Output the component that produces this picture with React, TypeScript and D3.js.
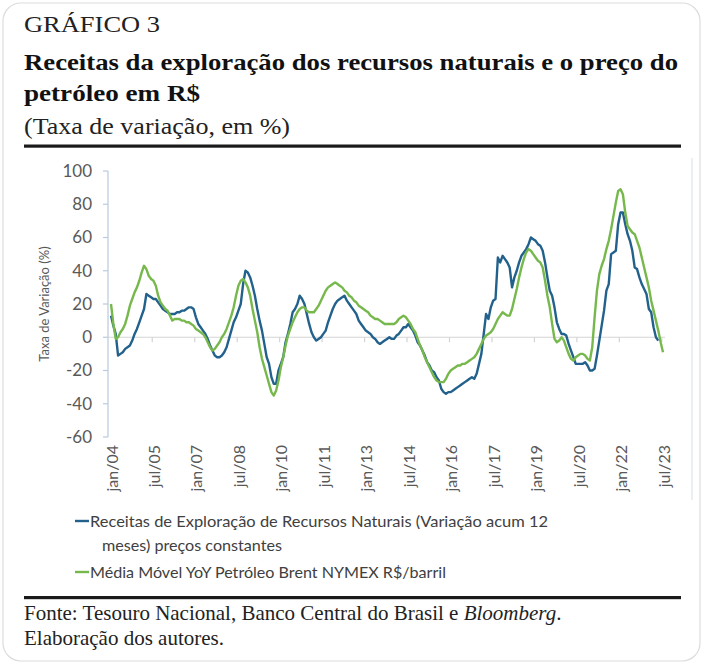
import React from "react";
import * as d3 from "d3";

const xLabels = ["jan/04","jul/05","jan/07","jul/08","jan/10","jul/11","jan/13","jul/14","jan/16","jul/17","jan/19","jul/20","jan/22","jul/23"];
const yTicks = [100, 80, 60, 40, 20, 0, -20, -40, -60];

// Monthly values starting jan/2004
const receitas = [
  13,7,2,-11,-10,-9,-7,-6,-5,-2,2,5,9,13,17,26,25,24,23,23,21,19,17,16,
  15,14,14,14,15,15,16,16,17,18,18,17,12,8,6,4,2,-1,-5,-8,-11,-12,-12,-11,
  -9,-6,-1,4,9,12,16,20,32,40,39,36,31,25,17,10,4,-4,-12,-16,-24,-28,-28,-20,
  -16,-12,-3,2,8,15,17,20,25,23,20,14,8,3,0,-2,-1,0,2,4,9,13,17,20,
  22,23,24,25,22,20,18,16,14,10,8,6,4,3,2,0,-1,-3,-4,-3,-2,-1,0,-1,
  -1,1,2,4,6,6,8,6,4,1,-3,-5,-8,-11,-15,-17,-20,-21,-24,-26,-31,-33,-34,-33,
  -33,-32,-31,-30,-29,-28,-27,-26,-25,-24,-25,-22,-16,-10,2,14,11,18,22,23,48,45,49,47,
  45,42,30,36,40,45,49,51,53,56,60,59,58,56,55,52,45,36,28,25,18,9,5,2,
  2,1,-4,-8,-12,-16,-16,-16,-16,-15,-17,-20,-20,-19,-11,-2,7,16,28,32,50,51,52,68,
  75,75,68,62,58,52,42,41,36,32,29,26,17,15,6,0,-2
];

const petroleo = [
  20,8,-1,0,3,5,8,13,19,23,27,30,34,39,43,41,37,35,34,31,25,21,19,17,
  16,13,10,11,11,11,10,10,9,9,8,7,5,4,3,2,0,-3,-6,-8,-7,-5,-3,0,
  2,5,9,13,18,25,31,34,35,33,30,25,17,10,3,-6,-13,-18,-23,-28,-33,-35,-32,-26,
  -18,-12,-5,1,5,9,12,15,17,18,18,16,15,15,15,17,19,22,25,28,30,31,32,33,
  32,31,30,28,27,25,24,22,21,19,18,17,16,15,13,12,11,11,10,9,8,8,8,8,
  8,9,11,12,13,12,10,8,5,3,-1,-5,-8,-12,-15,-18,-21,-24,-26,-27,-27,-27,-25,-22,
  -20,-19,-18,-17,-17,-16,-16,-15,-14,-13,-12,-10,-7,-4,-1,1,2,3,5,8,11,13,15,14,
  13,13,17,23,29,36,42,47,51,53,52,50,48,46,45,42,34,25,18,8,-1,-3,-2,0,
  -2,-6,-10,-13,-14,-12,-11,-10,-10,-11,-13,-14,-6,12,28,38,43,47,53,58,65,73,81,88,
  89,86,75,67,65,63,62,58,54,48,42,36,30,22,16,10,4,-3,-9
];

const BLUE = "#22618c";
const GREEN = "#76b84c";
const AXIS_TXT = "#595959";

export default function App() {
  const x = d3.scaleLinear().domain([0, 234]).range([111, 663]);
  const y = d3.scaleLinear().domain([-60, 100]).range([437, 171]);
  const line = d3
    .line<number>()
    .x((_, i) => x(i))
    .y((d) => y(d));

  const serif = "'Liberation Serif', 'Times New Roman', serif";
  const sans = "Lato, 'Open Sans', sans-serif";

  return (
    <svg
      width={704}
      height={670}
      style={{ position: "absolute", left: 0, top: 0, background: "#fff" }}
    >
      <rect x={3} y={3} width={697} height={658} rx={18} ry={18} fill="#fff" stroke="#dcdcdc" strokeWidth={1.2} />

      {/* Header */}
      <text x={24} y={32} fontFamily={serif} fontSize={24} fill="#222" textLength={136} lengthAdjust="spacingAndGlyphs">GRÁFICO 3</text>
      <text x={24} y={70} fontFamily={serif} fontSize={24} fontWeight="bold" fill="#111" textLength={654} lengthAdjust="spacingAndGlyphs">Receitas da exploração dos recursos naturais e o preço do</text>
      <text x={24} y={101} fontFamily={serif} fontSize={24} fontWeight="bold" fill="#111" textLength={176} lengthAdjust="spacingAndGlyphs">petróleo em R$</text>
      <text x={24} y={134} fontFamily={serif} fontSize={24} fill="#222" textLength={266} lengthAdjust="spacingAndGlyphs">(Taxa de variação, em %)</text>
      <rect x={24} y={144.5} width={657} height={3.2} fill="#1a1a1a" />

      {/* Right border of chart area */}
      <line x1={692} x2={692} y1={158} y2={500} stroke="#d6e0ea" strokeWidth={1} />

      {/* Y axis */}
      <line x1={108} x2={108} y1={171} y2={437} stroke="#b8cade" strokeWidth={1.2} />
      {yTicks.map((t) => (
        <g key={t}>
          <line x1={103} x2={108} y1={y(t)} y2={y(t)} stroke="#b8cade" strokeWidth={1.2} />
          <text x={92} y={y(t)} dy="0.35em" textAnchor="end" fontFamily={sans} fontSize={17} fill={AXIS_TXT}>{t}</text>
        </g>
      ))}
      <text
        transform={`translate(49,${y(20)}) rotate(-90)`}
        textAnchor="middle"
        fontFamily={sans}
        fontSize={13}
        fill={AXIS_TXT}
      >
        Taxa de Variação (%)
      </text>

      {/* Zero line and x ticks */}
      <line x1={108} x2={665} y1={y(0)} y2={y(0)} stroke="#d4d4d4" strokeWidth={1.2} />
      {xLabels.map((lab, k) => {
        const xi = x(k * 18) - 1.2;
        return (
          <g key={lab}>
            {k > 0 && <line x1={xi} x2={xi} y1={y(0)} y2={y(0) + 5} stroke="#d4d4d4" strokeWidth={1.2} />}
            <text
              transform={`translate(${x(k * 18) + 6.5},445) rotate(-90)`}
              textAnchor="end"
              fontFamily={sans}
              fontSize={16}
              fill={AXIS_TXT}
            >
              {lab}
            </text>
          </g>
        );
      })}

      {/* Series */}
      <path d={line(receitas) || ""} fill="none" stroke={BLUE} strokeWidth={2.4} strokeLinejoin="round" />
      <path d={line(petroleo) || ""} fill="none" stroke={GREEN} strokeWidth={2.4} strokeLinejoin="round" />

      {/* Legend */}
      <line x1={75} x2={89} y1={521} y2={521} stroke={BLUE} strokeWidth={2.4} />
      <text x={90} y={527} fontFamily={sans} fontSize={15} fill="#404040" textLength={458} lengthAdjust="spacingAndGlyphs">Receitas de Exploração de Recursos Naturais (Variação acum 12</text>
      <text x={102} y={551} fontFamily={sans} fontSize={15} fill="#404040" textLength={180} lengthAdjust="spacingAndGlyphs">meses) preços constantes</text>
      <line x1={75} x2={89} y1={572} y2={572} stroke={GREEN} strokeWidth={2.4} />
      <text x={90} y={578} fontFamily={sans} fontSize={15} fill="#404040" textLength={356} lengthAdjust="spacingAndGlyphs">Média Móvel YoY Petróleo Brent NYMEX R$/barril</text>

      {/* Footer */}
      <rect x={24} y={596} width={657} height={3.2} fill="#1a1a1a" />
      <text x={24} y={620} fontFamily={serif} fontSize={21} fill="#222">
        Fonte: Tesouro Nacional, Banco Central do Brasil e <tspan fontStyle="italic">Bloomberg</tspan>.
      </text>
      <text x={24} y={645} fontFamily={serif} fontSize={21} fill="#222">Elaboração dos autores.</text>
    </svg>
  );
}
